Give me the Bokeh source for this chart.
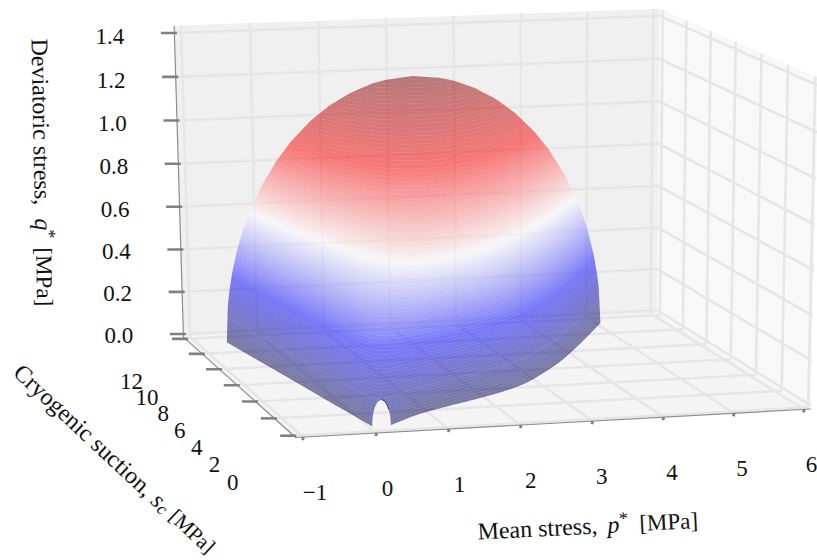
import numpy as np
from bokeh.plotting import figure
from bokeh.models import Range1d
from bokeh.core.properties import value
from bokeh.embed import file_html
from bokeh.resources import INLINE

# ---- axes data
p_ticks = [-1, 0, 1, 2, 3, 4, 5, 6]
s_ticks = [0, 2, 4, 6, 8, 10, 12]
q_ticks = [0.0, 0.2, 0.4, 0.6, 0.8, 1.0, 1.2, 1.4]
p_labels = ["\u22121", "0", "1", "2", "3", "4", "5", "6"]
s_labels = ["0", "2", "4", "6", "8", "10", "12"]
q_labels = ["0.0", "0.2", "0.4", "0.6", "0.8", "1.0", "1.2", "1.4"]
p_lim = (-1.1, 6.1)
s_lim = (-0.2, 12.25)
q_lim = (-0.015, 1.433)

# ---- surface: one row per suction level
row_s_left = [0.17, 1.40, 3.20, 4.30, 6.40, 8.40, 10.90]
row_p_left = [0.00, -0.07, -0.18, -0.24, -0.36, -0.48, -0.625]
row_s_right = [0.20, 1.35, 2.95, 4.00, 6.20, 8.20, 10.95]
row_p_right = [0.26, 0.85, 2.12, 2.75, 3.58, 4.20, 5.00]
row_q_peak = [0.115, 0.35, 0.59, 0.69, 0.84, 1.00, 1.20]
profile_t = [0, .005, .01, .02, .035, .05, .075, .1, .14, .18, .23, .28, .34, .4, .46, .5]
profile_f = [0, .141, .199, .28, .368, .436, .527, .6, .694, .768, .842, .898, .947, .98, .997, 1]
q_color_max = 1.2
n_levels = 90

# seismic colour map
cmap_pos = [0, .25, .5, .75, 1]
cmap_r = [0, 0, 1, 1, .5]
cmap_g = [0, 0, 1, 0, 0]
cmap_b = [.3, 1, 1, 0, 0]

# ---- view: world (p, s, q) <-> page position pairs used to fit the camera
view_world = [
    (p_lim[0], s_lim[1], q_lim[1]), (p_lim[0], s_lim[1], q_lim[0]),
    (p_lim[1], s_lim[1], q_lim[1]), (p_lim[1], s_lim[1], q_lim[0]),
    (p_lim[0], s_lim[0], q_lim[0]), (p_lim[1], s_lim[0], q_lim[0]),
    (p_lim[1], s_lim[0], q_lim[1]),
    (-1, s_lim[0], q_lim[0]), (0, s_lim[0], q_lim[0]), (3, s_lim[0], q_lim[0]), (6, s_lim[0], q_lim[0]),
    (p_lim[0], 12, q_lim[0]), (p_lim[0], 6, q_lim[0]),
    (-1, s_lim[1], q_lim[1]), (6, s_lim[1], q_lim[1]), (p_lim[1], 0, q_lim[1]),
    (p_lim[0], s_lim[1], 0.6), (p_lim[1], s_lim[1], 0.6),
    (p_lim[0], s_lim[1], 0.0), (p_lim[0], s_lim[1], 1.4),
]
view_page = [
    (172, 26), (181, 334), (661, 9), (658, 312), (298, 437), (809, 408), (818, 74),
    (303, 438), (376, 433.5), (591, 421.5), (802, 410),
    (187, 339), (236, 385),
    (183, 25.5), (650, 9.5), (815, 75),
    (179, 205), (660, 187),
    (181, 332), (173, 33),
]

A, B = [], []
for (X, Y, Z), (u, v) in zip(view_world, view_page):
    A.append([X, Y, Z, 1, 0, 0, 0, 0, -u * X, -u * Y, -u * Z]); B.append(u)
    A.append([0, 0, 0, 0, X, Y, Z, 1, -v * X, -v * Y, -v * Z]); B.append(v)
cam = np.linalg.lstsq(np.array(A, float), np.array(B, float), rcond=None)[0]
P = np.append(cam, 1.0).reshape(3, 4)


def proj(x, y, z):
    x, y, z = np.broadcast_arrays(np.asarray(x, float), np.asarray(y, float), np.asarray(z, float))
    w = P[2, 0] * x + P[2, 1] * y + P[2, 2] * z + P[2, 3]
    return ((P[0, 0] * x + P[0, 1] * y + P[0, 2] * z + P[0, 3]) / w,
            (P[1, 0] * x + P[1, 1] * y + P[1, 2] * z + P[1, 3]) / w)


fig = figure(width=817, height=560, x_range=Range1d(0, 817), y_range=Range1d(560, 0),
             toolbar_location=None, output_backend="svg", min_border=0,
             outline_line_color=None, background_fill_color="white", border_fill_color="white")
fig.axis.visible = False
fig.grid.visible = False

# ---- panes
p0, p1 = p_lim; s0, s1 = s_lim; q0, q1 = q_lim
panes = [
    ([p0, p1, p1, p0], [s1, s1, s1, s1], [q0, q0, q1, q1], "#f0f0f0"),
    ([p1, p1, p1, p1], [s1, s0, s0, s1], [q0, q0, q1, q1], "#f8f8f8"),
    ([p0, p1, p1, p0], [s0, s0, s1, s1], [q0, q0, q0, q0], "#f4f4f4"),
]
for a, b, c, col in panes:
    x, y = proj(a, b, c)
    fig.patch(list(x), list(y), fill_color=col, line_color=None)

# ---- grid
gx, gy = [], []
def seg(a, b):
    x, y = proj([a[0], b[0]], [a[1], b[1]], [a[2], b[2]])
    gx.append(list(x)); gy.append(list(y))
for v in p_ticks:
    seg((v, s1, q0), (v, s1, q1)); seg((v, s0, q0), (v, s1, q0))
for v in s_ticks:
    seg((p1, v, q0), (p1, v, q1)); seg((p0, v, q0), (p1, v, q0))
for v in q_ticks:
    seg((p0, s1, v), (p1, s1, v)); seg((p1, s0, v), (p1, s1, v))
fig.multi_line(gx, gy, line_color="#e6e6e6", line_width=2.6)

# ---- axis lines
ex, ey = proj([p0, p0, p0, p1], [s1, s1, s0, s0], [q1, q0, q0, q0])
fig.line(list(ex), list(ey), line_color="#8c8c8c", line_width=1.2)

# ---- surface: bands of equal height between contours of the row table
rows = np.arange(len(row_q_peak))
row_u = np.linspace(0, len(row_q_peak) - 1, 241)


def fine(tab, w=15):
    """row table on the fine rows, with the corners of the table eased"""
    v = np.interp(row_u, rows, tab)
    n = len(v)
    pad_l = 2 * v[0] - v[1:w + 1][::-1]
    pad_r = 2 * v[-1] - v[n - w - 1:n - 1][::-1]
    return np.convolve(np.concatenate([pad_l, v, pad_r]), np.ones(2 * w + 1) / (2 * w + 1), mode="valid")


SL = fine(row_s_left); SR = fine(row_s_right)
PL = fine(row_p_left); PR = fine(row_p_right)
QP = fine(row_q_peak)
ft = np.array(profile_t); ff = np.array(profile_f)


def branch(level, side):
    """page positions of the contour at this height, from the back row forwards"""
    keep = QP >= level
    r = np.clip(level / QP[keep], 0, 1)
    t = np.interp(r, ff, ft)
    if side == "right":
        t = 1 - t
    ps = PL[keep] + (PR - PL)[keep] * t
    ss = SL[keep] + (SR - SL)[keep] * t
    x, y = proj(ps, ss, np.full(ps.shape, level))
    return x[::-1], y[::-1]


def colour(m):
    r = np.interp(m, cmap_pos, cmap_r); g = np.interp(m, cmap_pos, cmap_g); b = np.interp(m, cmap_pos, cmap_b)
    return "#%02x%02x%02x" % (int(r * 255), int(g * 255), int(b * 255))


top = QP[-1]
front = QP[0]
levels = np.unique(np.concatenate([np.linspace(0, top, n_levels + 1), [front]]))
xs, ys, cols = [], [], []
for a, b in zip(levels[:-1], levels[1:]):
    la = branch(a, "left"); ra = branch(a, "right")
    lb = branch(b, "left"); rb = branch(b, "right")
    c = colour(0.5 * (a + b) / q_color_max)
    if b <= front:
        for (ca, cb) in ((la, lb), (ra, rb)):
            xs.append(list(ca[0]) + list(cb[0][::-1])); ys.append(list(ca[1]) + list(cb[1][::-1])); cols.append(c)
    else:
        xs.append(list(la[0]) + list(ra[0][::-1]) + list(rb[0]) + list(lb[0][::-1]))
        ys.append(list(la[1]) + list(ra[1][::-1]) + list(rb[1]) + list(lb[1][::-1]))
        cols.append(c)
fig.patches(xs, ys, fill_color=cols, fill_alpha=0.5, line_color=None)

# dark rim on the right side of the gap at the front of the surface
rim_t = ft[::-1][:9]
rim_q = QP[0] * ff[::-1][:9]
rx, ry = proj(PL[0] + (PR[0] - PL[0]) * (1 - rim_t), SL[0] + (SR[0] - SL[0]) * (1 - rim_t), rim_q)
fig.line(list(rx), list(ry), line_color="#34349c", line_width=1.0)

# ---- ticks
TICK = "#808080"
tx, ty = [], []
ax_, ay_ = proj([p0] * len(q_ticks), [s1] * len(q_ticks), q_ticks)
for x, y in zip(ax_, ay_):
    tx.append([x - 13.5, x + 2.5]); ty.append([y, y])
bx_, by_ = proj([p0] * len(s_ticks), s_ticks, [q0] * len(s_ticks))
for x, y in zip(bx_, by_):
    tx.append([x - 13.5, x + 2.5]); ty.append([y, y])
fig.multi_line(tx, ty, line_color=TICK, line_width=2.6)
cx_, cy_ = proj(p_ticks, [s0] * len(p_ticks), [q0] * len(p_ticks))
fig.multi_line([[x + 0.5, x - 0.5] for x in cx_], [[y, y + 3] for y in cy_], line_color=TICK, line_width=2.8)

# ---- tick labels
FONT = value("Liberation Serif")
lbl = dict(text_font=FONT, text_font_size="23px", text_color="#111111", text_align="center", text_baseline="middle")
qt = np.array(q_ticks) / 1.4
st = np.array(s_ticks) / 12
pt = (np.array(p_ticks) + 1) / 7
fig.text(list(ax_ - 64.5), list(ay_ + 1.5 + 2.5 * qt), text=q_labels, **lbl)
fig.text(list(bx_ - 61 + 7 * st), list(by_ + 47 - 4 * st), text=s_labels, **lbl)
fig.text(list(cx_ + 12 - 4.5 * pt), list(cy_ + 55.5), text=p_labels, **lbl)

# ---- axis titles, in pieces so the symbols can be italic
def title(x0, y0, deg, pieces):
    a = np.deg2rad(deg)
    for dist, txt, style, size, off in pieces:
        fig.text([x0 + dist * np.cos(a) - off * np.sin(a)], [y0 - dist * np.sin(a) - off * np.cos(a)], text=[txt],
                 angle=deg, angle_units="deg", text_font=FONT, text_font_style=style, text_font_size=size,
                 text_color="#111111", text_align="left", text_baseline="middle")

title(39, 38, -88.9, [(0, "Deviatoric stress,", "normal", "24px", 0), (180, "q", "italic", "24px", 0),
                      (191, "*", "normal", "18px", 6), (209, "[MPa]", "normal", "23px", 0)])
title(17, 368, -43, [(0, "Cryogenic suction,", "normal", "24px", 0), (188, "s", "italic", "24px", 0),
                     (198, "c", "italic", "17px", -4), (212, "[MPa]", "normal", "21px", 0)])
title(477, 531, 2.85, [(0, "Mean stress,", "normal", "24px", 0), (130, "p", "italic", "24px", 0),
                       (142, "*", "normal", "18px", 6), (162, "[MPa]", "normal", "23px", 0)])

open("out.html", "w").write(file_html(fig, INLINE))
